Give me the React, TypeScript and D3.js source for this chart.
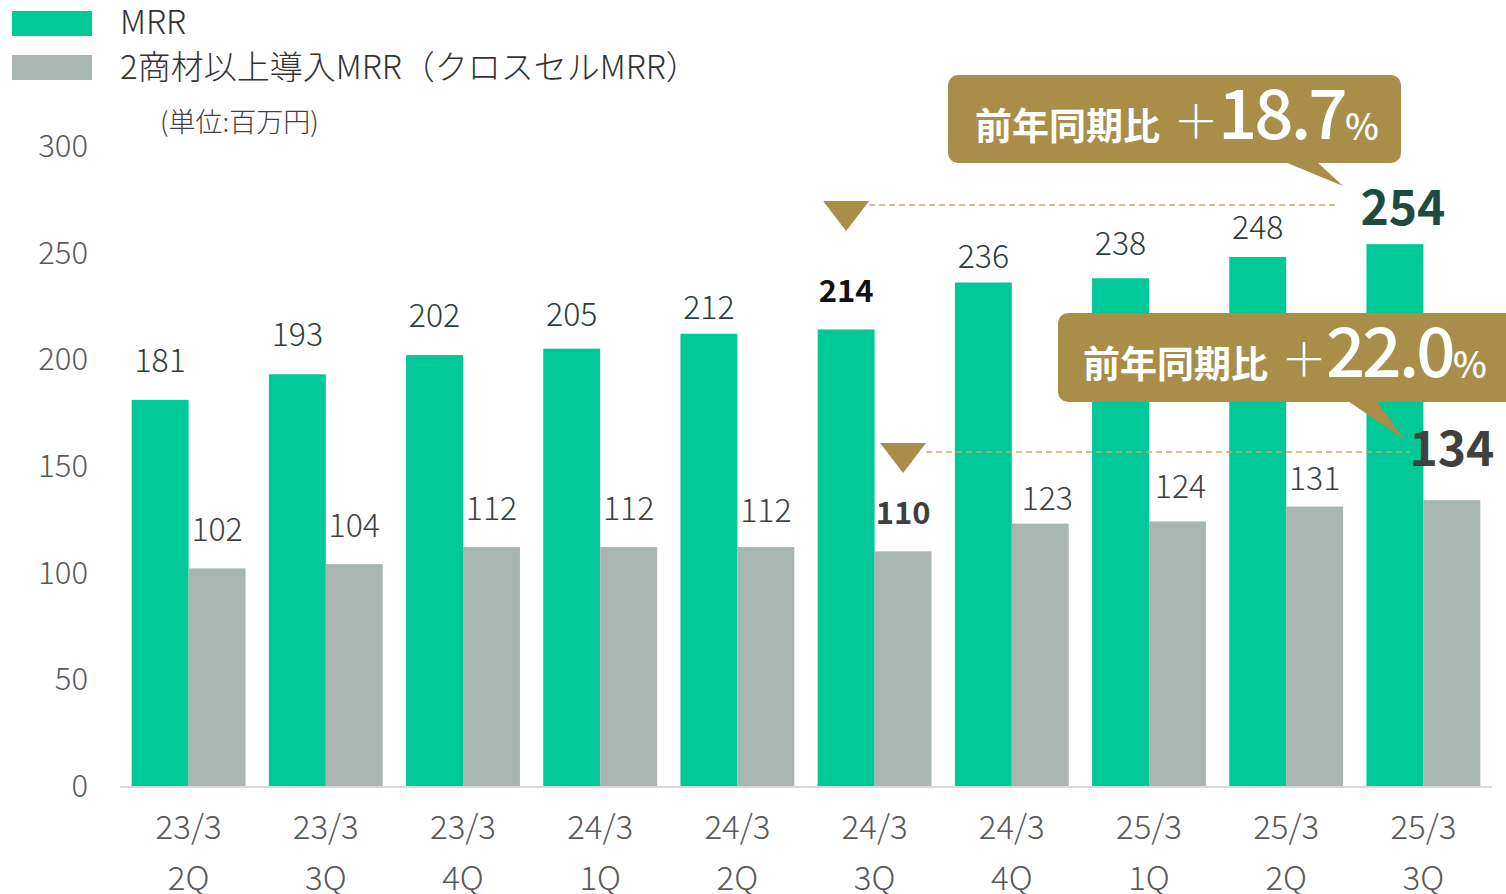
import React from "react";
import * as d3 from "d3";

// chart data
const categories = ["23/3|2Q", "23/3|3Q", "23/3|4Q", "24/3|1Q", "24/3|2Q", "24/3|3Q", "24/3|4Q", "25/3|1Q", "25/3|2Q", "25/3|3Q"];
const mrr = [181, 193, 202, 205, 212, 214, 236, 238, 248, 254];
const crossSell = [102, 104, 112, 112, 112, 110, 123, 124, 131, 134];
const yTicks = [0, 50, 100, 150, 200, 250, 300];

// small hand nudges for the value labels (as placed in the source slide)
const mrrNudge = [-2, -2, -2, 3, 11, -1, 11, 3, 8, -7];
const csNudge = [-1, -1, -1, -1, 1, -1, 12, 3, 9, 0];
const csNudgeX = [0, 0, 0, 0, 0, 0, 7, 3, 0, 0];

const GREEN = "#00c896";
const GRAY = "#a8b5b1";
const GOLD = "#a98e4a";
const FONT = "'Noto Sans CJK JP', 'Noto Sans', sans-serif";

const W = 1506;
const H = 894;

const App = () => {
  const x = d3.scaleBand<string>().domain(categories).range([120, 1492]).paddingInner(0.17).paddingOuter(0.085);
  const y = d3.scaleLinear().domain([0, 300]).range([786, 146]);
  const bw = x.bandwidth() / 2;

  // label style per bar
  const mrrStyle = (i: number) => {
    if (i === 9) return { size: 48, weight: 700, fill: "#1f4a40", dx: 8, dy: -12 };
    if (i === 5) return { size: 31, weight: 700, fill: "#111", dx: 0, dy: -26 };
    return { size: 32, weight: 300, fill: "#2e3d3a", dx: 0, dy: -26 };
  };
  const csStyle = (i: number) => {
    if (i === 9) return { size: 48, weight: 700, fill: "#404040", dx: 0, dy: -34 };
    if (i === 5) return { size: 31, weight: 700, fill: "#404040", dx: 0, dy: -26 };
    return { size: 32, weight: 300, fill: "#404040", dx: 0, dy: -26 };
  };

  const callout = (rx: number, ry: number, rw: number, rh: number, tail: [number, number][], pct: string, tx: number) => (
    <g fill="#fff" fontFamily={FONT}>
      <rect x={rx} y={ry} width={rw} height={rh} rx={10} fill={GOLD} />
      <polygon points={tail.map((p) => p.join(",")).join(" ")} fill={GOLD} />
      <text x={tx} y={ry + 65} fontSize={37} fontWeight={700}>前年同期比</text>
      <text x={tx + 198} y={ry + 63} fontSize={46} fontWeight={300}>＋</text>
      <text x={tx + 243} y={ry + 64} fontSize={69} fontWeight={500} letterSpacing={-3}>{pct}</text>
      <text x={tx + 370} y={ry + 65} fontSize={36} fontWeight={500}>%</text>
    </g>
  );

  return (
    <svg width={W} height={H} style={{ position: "absolute", left: 0, top: 0 }}>
      <rect width={W} height={H} fill="#fff" />
      {/* legend */}
      <rect x={12} y={11} width={80} height={25} fill={GREEN} />
      <rect x={12} y={55} width={80} height={25} fill={GRAY} />
      <text x={120} y={34} fontSize={33} fontFamily={FONT} fontWeight={300} fill="#333">MRR</text>
      <text x={120} y={79} fontSize={33} fontFamily={FONT} fontWeight={300} fill="#333">2商材以上導入MRR（クロスセルMRR）</text>
      <text x={160} y={132} fontSize={27} fontFamily={FONT} fontWeight={300} fill="#404040">(単位:百万円)</text>

      {/* y axis labels */}
      {yTicks.map((t) => (
        <text key={t} x={88} y={y(t) + 11} textAnchor="end" fontSize={31} fontFamily={FONT} fontWeight={300} fill="#595959">{t}</text>
      ))}

      {/* bars */}
      {categories.map((c, i) => (
        <g key={c}>
          <rect x={x(c)!} y={y(mrr[i])} width={bw} height={y(0) - y(mrr[i])} fill={GREEN} />
          <rect x={x(c)! + bw} y={y(crossSell[i])} width={bw} height={y(0) - y(crossSell[i])} fill={GRAY} />
        </g>
      ))}

      {/* x axis */}
      <line x1={120} x2={1492} y1={787} y2={787} stroke="#d9d9d9" strokeWidth={2} />
      {categories.map((c) => {
        const [a, b] = c.split("|");
        const cx = x(c)! + x.bandwidth() / 2;
        return (
          <text key={c} textAnchor="middle" fontSize={33} fontFamily={FONT} fontWeight={300} fill="#595959">
            <tspan x={cx} y={839}>{a}</tspan>
            <tspan x={cx} y={890}>{b}</tspan>
          </text>
        );
      })}

      {/* value labels */}
      {categories.map((c, i) => {
        const s = mrrStyle(i);
        const t = csStyle(i);
        return (
          <g key={c} fontFamily={FONT}>
            <text x={x(c)! + bw / 2 + s.dx} y={y(mrr[i]) + s.dy + mrrNudge[i]} textAnchor="middle" fontSize={s.size} fontWeight={s.weight} fill={s.fill}>{mrr[i]}</text>
            <text x={x(c)! + bw * 1.5 + t.dx + csNudgeX[i]} y={y(crossSell[i]) + t.dy + csNudge[i]} textAnchor="middle" fontSize={t.size} fontWeight={t.weight} fill={t.fill}>{crossSell[i]}</text>
          </g>
        );
      })}

      {/* comparison markers */}
      {(() => {
        const c = categories[5];
        const gx = x(c)! + bw / 2;
        const sx = x(c)! + bw * 1.5;
        return (
          <g>
            <polygon points={`${gx - 23},201 ${gx + 23},201 ${gx},231`} fill={GOLD} />
            <line x1={gx + 23} x2={1335} y1={205} y2={205} stroke="#c9a86a" strokeWidth={1.5} strokeDasharray="6 4" />
            <polygon points={`${sx - 23},443 ${sx + 23},443 ${sx},473`} fill={GOLD} />
            <line x1={sx + 23} x2={1410} y1={452} y2={452} stroke="#c9a86a" strokeWidth={1.5} strokeDasharray="6 4" />
          </g>
        );
      })()}

      {callout(948, 75, 453, 88, [[1280, 160], [1315, 160], [1343, 186]], "18.7", 975)}
      {callout(1058, 313, 460, 89, [[1345, 399], [1375, 399], [1405, 440]], "22.0", 1083)}
    </svg>
  );
};

export default App;
